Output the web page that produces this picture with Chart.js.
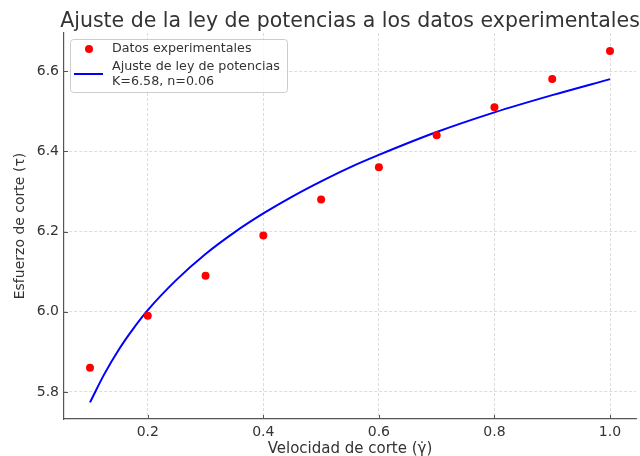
<!DOCTYPE html>
<html lang="es">
<head>
  <meta charset="UTF-8">
  <title>Ajuste de la ley de potencias</title>
  <script src="https://cdn.jsdelivr.net/npm/chart.js@4.4.1/dist/chart.umd.min.js"></script>
  <style>
    html, body { margin: 0; padding: 0; background: #fff; }
    #wrap { width: 640px; height: 456px; }
  </style>
</head>
<body>
<div id="wrap"><canvas id="chart" width="640" height="456"></canvas></div>

<script>
// experimental points
const shearRate = [0.1, 0.2, 0.3, 0.4, 0.5, 0.6, 0.7, 0.8, 0.9, 1.0];
const shearStress = [5.86, 5.99, 6.09, 6.19, 6.28, 6.36, 6.44, 6.51, 6.58, 6.65];

// fitted curve
const fitRate = [0.1, 0.125, 0.15, 0.175, 0.2, 0.25, 0.3, 0.35, 0.4, 0.45, 0.5, 0.55, 0.6, 0.7, 0.8, 0.9, 1.0];
const fitStress = [5.774, 5.845, 5.906, 5.958, 6.004, 6.08, 6.144, 6.198, 6.245, 6.287, 6.325, 6.36, 6.391, 6.448, 6.497, 6.54, 6.58];

const xTicks = [0.2, 0.4, 0.6, 0.8, 1.0];
const yTicks = [5.8, 6.0, 6.2, 6.4, 6.6];

const chartTitle = 'Ajuste de la ley de potencias a los datos experimentales';
const legendLabels = ['Datos experimentales', 'Ajuste de ley de potencias\nK=6.58, n=0.06'];

const FONT = '"DejaVu Sans", sans-serif';
const TEXT = '#333333';
const SPINE = '#555555';

// title centred over the plot area, not the whole canvas
const plotTitle = {
  id: 'plotTitle',
  afterDraw(chart) {
    const ctx = chart.ctx;
    const a = chart.chartArea;
    ctx.save();
    ctx.font = '20.5px ' + FONT;
    ctx.fillStyle = TEXT;
    ctx.textAlign = 'center';
    ctx.textBaseline = 'alphabetic';
    ctx.fillText(chartTitle, (a.left + a.right) / 2, 27);
    ctx.restore();
  }
};

// short inward tick marks like the original
const innerTicks = {
  id: 'innerTicks',
  afterDraw(chart) {
    const ctx = chart.ctx;
    const a = chart.chartArea;
    const xs = chart.scales.x, ys = chart.scales.y;
    ctx.save();
    ctx.strokeStyle = SPINE;
    ctx.lineWidth = 1;
    xTicks.forEach(v => {
      const px = Math.round(xs.getPixelForValue(v)) + 0.5;
      ctx.beginPath();
      ctx.moveTo(px, a.bottom);
      ctx.lineTo(px, a.bottom - 4);
      ctx.stroke();
    });
    yTicks.forEach(v => {
      const py = Math.round(ys.getPixelForValue(v)) + 0.5;
      ctx.beginPath();
      ctx.moveTo(a.left, py);
      ctx.lineTo(a.left + 4, py);
      ctx.stroke();
    });
    ctx.restore();
  }
};

// legend box drawn by hand (second label has two lines)
const boxLegend = {
  id: 'boxLegend',
  afterDraw(chart) {
    const ctx = chart.ctx;
    const a = chart.chartArea;
    const x0 = a.left + 6, y0 = a.top + 6, w = 217, h = 53;
    ctx.save();
    ctx.fillStyle = 'rgba(255,255,255,0.85)';
    ctx.strokeStyle = '#cccccc';
    ctx.lineWidth = 1;
    ctx.beginPath();
    ctx.roundRect(x0 + 0.5, y0 + 0.5, w, h, 3);
    ctx.fill();
    ctx.stroke();

    ctx.font = '12.7px ' + FONT;
    ctx.textBaseline = 'middle';
    ctx.textAlign = 'left';

    // points entry
    const ds0 = chart.data.datasets[0];
    ctx.fillStyle = ds0.backgroundColor;
    ctx.beginPath();
    ctx.arc(x0 + 19, y0 + 10, 4, 0, Math.PI * 2);
    ctx.fill();
    ctx.fillStyle = TEXT;
    ctx.fillText(legendLabels[0], x0 + 42, y0 + 10);

    // line entry
    const ds1 = chart.data.datasets[1];
    ctx.strokeStyle = ds1.borderColor;
    ctx.lineWidth = 2;
    ctx.beginPath();
    ctx.moveTo(x0 + 4, y0 + 35);
    ctx.lineTo(x0 + 33, y0 + 35);
    ctx.stroke();
    const lines = legendLabels[1].split('\n');
    lines.forEach((t, i) => ctx.fillText(t, x0 + 42, y0 + 28 + i * 14.5));
    ctx.restore();
  }
};

const ctx = document.getElementById('chart').getContext('2d');
new Chart(ctx, {
  type: 'scatter',
  data: {
    datasets: [{
      label: legendLabels[0],
      data: shearRate.map((x, i) => ({x: x, y: shearStress[i]})),
      backgroundColor: '#ff0000',
      borderColor: '#ff0000',
      pointRadius: 4,
      pointBorderWidth: 0,
      order: 1
    }, {
      label: legendLabels[1],
      data: fitRate.map((x, i) => ({x: x, y: fitStress[i]})),
      showLine: true,
      borderColor: '#0000ff',
      backgroundColor: '#0000ff',
      borderWidth: 2,
      pointRadius: 0,
      cubicInterpolationMode: 'monotone',
      order: 2
    }]
  },
  options: {
    responsive: false,
    animation: false,
    layout: { padding: { left: 0, right: 4, top: 33, bottom: 0 } },
    plugins: {
      legend: { display: false },
      tooltip: { enabled: false },
      title: { display: false }
    },
    scales: {
      x: {
        type: 'linear',
        min: 0.055,
        max: 1.045,
        afterBuildTicks: s => { s.ticks = xTicks.map(v => ({value: v})); },
        afterFit: s => { s.height = 37; },
        ticks: {
          color: TEXT,
          font: { family: FONT, size: 14 },
          padding: 5,
          callback: v => v.toFixed(1)
        },
        grid: { color: '#d3d3d3', lineWidth: 0.8, drawTicks: false },
        border: { display: true, color: SPINE, width: 1.2, dash: [3, 2] },
        title: {
          display: true,
          text: 'Velocidad de corte (γ̇)',
          color: TEXT,
          font: { family: FONT, size: 15, lineHeight: 1 },
          padding: { top: 0, bottom: -1 }
        }
      },
      y: {
        type: 'linear',
        min: 5.7325,
        max: 6.695,
        afterBuildTicks: s => { s.ticks = yTicks.map(v => ({value: v})); },
        afterFit: s => { s.width = 64; },
        ticks: {
          color: TEXT,
          font: { family: FONT, size: 14 },
          padding: 5,
          callback: v => v.toFixed(1)
        },
        grid: { color: '#d3d3d3', lineWidth: 0.8, drawTicks: false },
        border: { display: true, color: SPINE, width: 1.2, dash: [3, 2] },
        title: {
          display: true,
          text: 'Esfuerzo de corte (τ)',
          color: TEXT,
          font: { family: FONT, size: 14, lineHeight: 1 },
          padding: { top: 13, bottom: 0 }
        }
      }
    }
  },
  plugins: [plotTitle, innerTicks, boxLegend]
});
</script>
</body>
</html>
